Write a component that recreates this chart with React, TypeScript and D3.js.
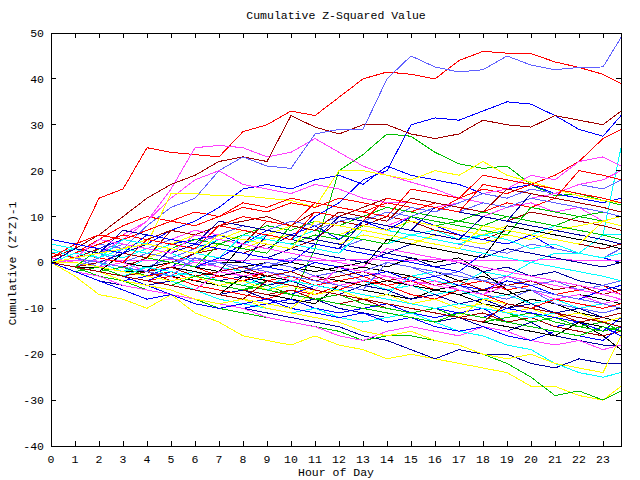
import * as React from "react";
import { scaleLinear, line, range } from "d3";

// sample times (hours), one per hour plus the last quarter
const hours = [0, 1, 2, 3, 4, 5, 6, 7, 8, 9, 10, 11, 12, 13, 14, 15, 16, 17, 18, 19, 20, 21, 22, 23, 23.75];

const xTicks = range(0, 24);
const yTicks = [-40, -30, -20, -10, 0, 10, 20, 30, 40, 50];

// one walk per day
const walk00 = [0, 3, 14, 16, 25, 24, 23.5, 23, 28.5, 30, 33, 32, 36, 40, 41.5, 41, 40, 44, 46, 45.6, 45.5, 43.7, 42.5, 41, 39];
const walk01 = [0, -1, -2, -3, -4, -5, -6, -7, -8, -9, -8, 3, 20, 23.5, 28, 27.5, 24, 21.5, 20.5, 21, 17, 14.5, 15, 13.5, 12.5];
const walk02 = [0, -2, -3, -4, -3, -1, 2, 1, 4, 6, 5, 10, 13, 18, 20, 30, 31.5, 31, 33, 35, 34.5, 32, 29, 27.5, 32];
const walk03 = [0, 1, 2, 5, 9, 16, 25, 25.5, 25, 23, 24, 27, 24, 21, 19, 17.5, 16, 14, 13, 12, 13, 11, 12, 9, 8];
const walk04 = [1, 0, -1, -2, 1, 0, -1, -3, -4, -5, -3, -4, -5, -6, -7, -3, -4, -5, -2, -3, 0, 2, 2, 6, 25];
const walk05 = [1, 3, 6, 10, 14, 17, 19, 22, 23, 22, 32, 29.5, 28, 30, 30, 28, 27, 28, 31, 30, 29.5, 32, 31, 30, 33];
const walk06 = [0, -3, -7, -8, -10, -7, -11, -13, -16, -17, -18, -16, -18, -19, -21, -20, -21, -22, -23, -24, -27, -27, -29, -30, -27];
const walk07 = [0, 1, -1, 3, 8, 12, 14, 20, 23, 21, 20.5, 28, 29, 29, 40, 45, 42.6, 41.5, 42, 45, 43, 42, 42.5, 42.6, 49];
const walk08 = [0, -2, -4, -5, -6, -7, -8, -9, -10, -11, -12, -13, -14, -16, -17, -19, -21, -19, -20, -20, -22, -23, -21, -22, -22];
const walk09 = [0, -1, -1, -2, -1, 0, -1, 0, -1, 0, -1, -2, -1, 0, -1, 1, 0, 1, -2, -6, -9, -11, -13, -16, -19];
const walk10 = [0, 2, 5, 8, 10, 9, 11, 10, 13, 12, 14, 13, 12, 11, 13, 12, 11, 14, 16, 15, 17, 19, 22, 27, 29];
const walk11 = [0, -1, 0, 2, 1, 3, 2, 4, 6, 5, 4, 6, 5, 8, 7, 9, 8, 9, 8, 10, 9, 8, 10, 11, 10];
const walk12 = [0, 1, 3, 5, 4, 7, 9, 12, 16, 17, 16, 18, 19, 17, 21, 19, 18, 17, 15, 16, 17, 15, 14, 13, 14];
const walk13 = [0, 2, 4, 6, 9, 14, 18, 20, 17, 16, 15, 17, 16, 14, 13, 13, 12, 13, 15, 16, 19, 18, 22, 23, 21];
const walk14 = [2, 3, 1, 0, 2, 4, 3, 5, 7, 6, 8, 7, 6, 8, 7, 6, 7, 5, 6, 7, 6, 8, 7, 6, 6];
const walk15 = [0, -1, -2, -1, 1, 0, 2, 3, 2, 4, 3, 5, 9, 8, 10, 9, 7, 6, 5, 7, 6, 5, 4, 3, 4];
const walk16 = [0, -1, 1, 3, 4, 15, 15, 14.5, 14.5, 14, 13.5, 12, 20, 20, 19, 18, 20, 19, 22, 19, 17.5, 16, 14.5, 13.5, 13];
const walk17 = [0, 1, 2, 0, -1, 1, 3, 5, 4, 6, 8, 7, 9, 10, 9, 12, 11, 13, 15, 14, 16, 15, 17, 16, 18];
const walk18 = [0, -1, -3, -4, -5, -4, -6, -7, -6, -8, -9, -8, -10, -11, -12, -11, -13, -12, -14, -15, -13, -16, -17, -18, -18];
const walk19 = [0, 1, 0, -1, -2, -3, -4, -5, -6, -7, -8, -9, -5, -6, -7, -8, -6, -7, -9, -10, -8, -9, -11, -12, -13];
const walk20 = [0, -1, -2, -3, -4, -3, -5, -6, -7, -8, -6, -7, -5, -4, -6, -5, -7, -6, -8, -9, -10, -11, -12, -13, -12];
const walk21 = [0, -1, -3, -4, -6, -7, -8, -10, -11, -12, -13, -14, -15, -17, -16, -16, -17, -18, -20, -22, -25, -29, -28, -30, -28];
const walk22 = [1, 0, -1, -3, -5, -7, -8, -9, -10, -9, -8, -10, -11, -10, -9, -11, -12, -11, -10, -13, -12, -14, -13, -15, -12];
const walk23 = [0, -2, -3, -5, -6, -7, -8, -9, -10, -12, -13, -14, -16, -17, -15, -14, -15, -16, -14, -15, -17, -18, -17, -19, -18];
const walk24 = [3, 1, 0, -1, -2, -4, -6, -8, -9, -10, -11, -10, -12, -13, -12, -11, -13, -15, -16, -18, -19, -22, -24, -25, -24];
const walk25 = [0, 1, 0, -1, -2, -1, -3, -4, -3, -5, -4, -6, -7, -8, -7, -9, -10, -11, -12, -13, -12, -14, -15, -16, -15];
const walk26 = [0, -1, -2, -4, -5, -6, -8, -9, -8, -10, -11, -12, -13, -15, -16, -15, -17, -18, -20, -21, -20, -22, -23, -24, -16];
const walk27 = [0, 0, -1, -2, -1, 0, 1, -1, -2, 0, -1, -3, -2, -4, -3, -5, -6, -5, -7, -8, -6, -9, -10, -11, -10];
const walk28 = [0, 1, 2, 1, 3, 2, 4, 3, 2, 1, 3, 2, 1, 0, 2, 1, -1, 0, -2, -1, -3, -2, -4, -5, -6];
const walk29 = [0, -1, -1, -2, -2, -3, -2, -3, -4, -3, -4, -5, -4, -5, -6, -5, -6, -7, -6, -5, -6, -7, -6, -7, -6];
const walk30 = [1, 4, 6, 5, 7, 9, 8, 10, 12, 11, 13, 12, 14, 13, 12, 11, 13, 12, 11, 13, 12, 14, 13, 12, 11];
const walk31 = [0, -2, -1, -3, -2, -4, -3, -5, -6, -4, -5, -7, -6, -8, -7, -9, -8, -10, -9, -11, -13, -12, -14, -13, -15];
const walk32 = [0, 2, 1, 3, 2, 4, 5, 6, 4, 7, 6, 8, 5, 9, 7, 10, 8, 6, 5, 4, 6, 3, 2, 1, 0];
const walk33 = [0, 0.5, 0.3, 0.5, 0.4, 0.6, 0.5, 0.4, 0.5, 0.6, 0.5, 0.4, 0.5, 0.6, 0.5, 0.5, 0.6, 0.5, 0.5, 0.4, 0.5, 0.6, 0.5, 0.5, 0.5];
const walk34 = [4, 3, 2, 1, 3, 2, 0, -1, -2, -3, -4, -3, -5, -4, -6, -5, -7, -6, -8, -7, -9, -8, -10, -9, -8];
const walk35 = [0, 2, 4, 3, 5, 7, 6, 8, 9, 10, 8, 11, 10, 12, 14, 13, 12, 11, 10, 9, 11, 10, 9, 8, 7];
const walk36 = [0, 1, 0, 2, 1, 3, 2, 4, 3, 5, 6, 5, 4, 6, 5, 4, 6, 5, 4, 6, 5, 7, 8, 9, 10];
const walk37 = [0, 2, 4, 3, 5, 4, 6, 5, 7, 6, 5, 4, 3, 5, 4, 6, 5, 4, 3, 2, 4, 3, 2, 1, 3];
const walk38 = [0, -1, 0, -2, -1, -3, -2, -4, -3, -5, -4, -6, -7, -5, -6, -8, -7, -9, -8, -10, -9, -11, -10, -12, -11];
const walk39 = [0, 0, -1, 0, -1, 0, -1, 0, 0, -1, 0, -1, -2, -1, -2, -3, -2, -4, -3, -5, -4, -6, -5, -7, -6];
const walk40 = [0, -1, -2, -1, -3, -2, -4, -3, -2, -4, -3, -5, -4, -3, -5, -4, -6, -5, -4, -6, -5, -7, -6, -5, -7];
const walk41 = [0, 1, 3, 2, 4, 3, 5, 4, 6, 8, 7, 9, 8, 10, 12, 11, 10, 9, 11, 10, 9, 8, 7, 6, 5];
const walk42 = [0, -2, -4, -6, -8, -7, -9, -10, -9, -8, -10, -11, -12, -11, -13, -12, -14, -15, -14, -16, -17, -15, -16, -17, -14];
const walk43 = [0, 1, 2, 4, 3, 5, 7, 6, 8, 7, 9, 8, 10, 9, 8, 10, 12, 11, 10, 12, 14, 15, 17, 18, 20];
const walk44 = [0, -1, 0, -2, -1, -3, -2, -4, -5, -3, -2, -4, -3, -2, -4, -3, -2, -3, -4, -3, -5, -4, -6, -5, -4];
const walk45 = [0, -1, -2, -3, -2, -4, -3, -5, -6, -7, -6, -8, -9, -8, -10, -11, -10, -12, -11, -13, -12, -11, -13, -12, -11];
const walk46 = [0, 2, 1, 3, 5, 4, 6, 5, 7, 6, 8, 7, 6, 8, 7, 9, 8, 7, 6, 8, 7, 6, 5, 4, 3];
const walk47 = [0, -1, 1, 0, 2, 1, -1, 0, -2, -1, 1, 0, -1, -2, 0, -1, -3, -2, -4, -3, -5, -4, -6, -5, -4];
const walk48 = [0, 1, 0, 2, 4, 3, 2, 5, 4, 3, 6, 5, 4, 3, 2, 4, 3, 2, 1, 3, 2, 1, 0, -1, 0];
const walk49 = [0, -1, 0, -1, -2, -1, -2, -3, -2, -3, -4, -3, -4, -5, -4, -5, -6, -5, -6, -7, -6, -8, -7, -8, -9];
const walk50 = [2, 1, 0, -1, -2, 0, -1, -3, -4, -2, -3, -5, -6, -4, -5, -7, -8, -6, -7, -9, -10, -8, -9, -10, -9];
const walk51 = [0, -1, -2, -1, -3, -4, -3, -5, -6, -5, -7, -8, -7, -9, -10, -11, -10, -12, -13, -12, -11, -13, -14, -15, -14];
const walk52 = [0, 1, 3, 2, 1, 0, -1, 1, 0, -1, -2, 0, -1, -3, -2, -4, -3, -5, -6, -4, -5, -7, -8, -6, -5];
const walk53 = [1, 0, -1, 0, -2, -1, 0, -1, -3, -2, -4, -3, -5, -4, -3, -5, -4, -6, -7, -5, -6, -8, -7, -9, -8];
const walk54 = [0, 2, 1, 3, 2, 4, 3, 5, 4, 6, 5, 7, 6, 5, 4, 6, 5, 4, 6, 5, 3, 4, 2, 1, 2];
const walk55 = [0, -1, 0, -1, -2, -1, -3, -2, -1, -3, -2, -4, -3, -2, -4, -3, -5, -4, -6, -5, -4, -6, -5, -7, -6];
const walk56 = [0, 0, -1, -2, -3, -4, -3, -5, -4, -6, -5, -7, -6, -8, -7, -9, -8, -10, -9, -11, -10, -12, -11, -13, -12];
const walk57 = [0, 1, 2, 4, 3, 5, 4, 6, 8, 7, 9, 8, 10, 9, 11, 10, 12, 11, 13, 12, 14, 13, 12, 11, 10];
const walk58 = [0, 1, 0, -1, -2, 3, 2, 1, 0, 6, 5, 4, 3, 9, 8, 7, 12, 11, 10, 9, 15, 14, 13, 12, 11];
const walk59 = [0, -1, -2, 2, 1, 0, -1, -2, 4, 3, 2, 1, 0, -1, 5, 4, 3, 2, 1, 8, 7, 6, 5, 4, 3];
const walk60 = [0, 2, 1, 0, 5, 4, 3, 8, 7, 6, 5, 11, 10, 9, 14, 13, 12, 11, 17, 16, 15, 14, 20, 19, 18];
const walk61 = [0, -1, 3, 2, 1, 0, -1, 4, 3, 2, 8, 7, 6, 5, 4, 10, 9, 8, 7, 6, 12, 11, 10, 9, 8];
const walk62 = [0, -1, -2, -3, -4, -2, -3, -4, -5, -6, -7, -5, -6, -7, -8, -9, -10, -11, -12, -10, -11, -12, -13, -14, -16];
const walk63 = [0, -1, -2, -3, -4, -5, -6, -2, -3, -4, -5, -6, -1, -2, -3, -4, -5, -6, -7, -3, -4, -5, -6, -7, -8];
const walk64 = [0, -1, -2, -3, -1, -2, -3, -4, -5, -6, -4, -5, -6, -7, -8, -9, -10, -9, -10, -11, -12, -11, -12, -13, -14];
const walk65 = [0, 1, 3, 2, 1, 7, 6, 5, 4, 9, 8, 7, 11, 10, 9, 14, 13, 12, 11, 16, 15, 14, 13, 12, 11];
const walk66 = [0, -1, -2, -3, -4, -5, -6, -7, -8, -9, -10, -6, -7, -8, -9, -10, -11, -12, -8, -9, -10, -11, -12, -13, -12];
const walk67 = [0, 1, 0, -1, -2, -3, 1, 0, -1, -2, -3, -4, -5, -6, 0, -1, -2, -3, -4, -5, -6, -7, -8, -9, -10];
const walk68 = [0, 3, 2, 7, 6, 5, 4, 9, 8, 7, 6, 5, 10, 9, 8, 7, 6, 5, 10, 9, 8, 7, 6, 5, 4];
const walk69 = [0, -1, -2, -3, -4, -5, -6, -7, -3, -4, -5, -6, -7, -8, -9, -10, -11, -12, -13, -14, -15, -16, -13, -14, -15];
const walk70 = [0, 2, 4, 6, 5, 4, 3, 8, 10, 9, 8, 13, 12, 11, 10, 16, 15, 14, 19, 18, 17, 16, 15, 14, 13];
const walk71 = [0, -1, -2, -3, -4, -5, -3, -4, -5, -6, -7, -8, -9, -10, -11, -12, -13, -11, -12, -13, -14, -15, -16, -14, -15];
const walk72 = [5, 4, 3, 2, 6, 5, 4, 3, 2, 1, 0, 4, 3, 2, 1, 0, -1, -2, 2, 1, 0, -1, -2, -3, -4];
const walk73 = [0, 1, 5, 4, 3, 2, 6, 5, 4, 3, 2, 1, 0, -1, 3, 2, 1, 0, -1, -2, -3, -4, -5, -6, -7];
const walk74 = [0, 2, 1, 5, 4, 3, 2, 1, 6, 5, 4, 3, 2, 7, 6, 5, 4, 3, 2, 1, 0, -1, -2, -3, -4];
const walk75 = [0, -1, -2, -3, -4, -5, -6, -7, -8, -4, -5, -6, -7, -8, -9, -10, -11, -12, -13, -9, -10, -11, -12, -13, -14];
const walk76 = [0, 1, 2, 3, 4, 3, 2, 6, 5, 4, 3, 9, 8, 7, 6, 5, 4, 3, 8, 7, 6, 5, 4, 9, 8];

const walks = [
  walk00, walk01, walk02, walk03, walk04, walk05, walk06, walk07, walk08, walk09,
  walk10, walk11, walk12, walk13, walk14, walk15, walk16, walk17, walk18, walk19,
  walk20, walk21, walk22, walk23, walk24, walk25, walk26, walk27, walk28, walk29,
  walk30, walk31, walk32, walk33, walk34, walk35, walk36, walk37, walk38, walk39,
  walk40, walk41, walk42, walk43, walk44, walk45, walk46, walk47, walk48, walk49,
  walk50, walk51, walk52, walk53, walk54, walk55, walk56, walk57, walk58, walk59,
  walk60, walk61, walk62, walk63, walk64, walk65, walk66, walk67, walk68, walk69,
  walk70, walk71, walk72, walk73, walk74, walk75, walk76,
];

// gnuplot-ish line colours, cycled
const palette = ["#ff0000", "#00c000", "#0000ff", "#ff40ff", "#00ffff", "#a00000", "#ffff00", "#6060ff", "#0000a0", "#000000"];

const W = 640;
const H = 480;
const left = 51;
const right = 621;
const top = 33;
const bottom = 446;
const tickLen = 5;
const font = "'Liberation Mono', 'DejaVu Sans Mono', monospace";

const App = () => {
  const x = scaleLinear().domain([0, 23.75]).range([left, right]);
  const y = scaleLinear().domain([-40, 50]).range([bottom, top]);

  const path = line<number>()
    .x((d, i) => x(hours[i]))
    .y((d) => y(d));

  return (
    <svg
      width={W}
      height={H}
      style={{ position: "absolute", left: 0, top: 0, background: "#fff", display: "block" }}
      fontFamily={font}
      fontSize={11.5}
    >
      <rect x={0} y={0} width={W} height={H} fill="#fff" />
      <g shapeRendering="crispEdges">
        {walks.map((w, i) => (
          <path key={i} d={path(w) || ""} fill="none" stroke={palette[i % palette.length]} strokeWidth={1} />
        ))}
      </g>

      <g stroke="#000" strokeWidth={1} shapeRendering="crispEdges">
        <rect x={left} y={top} width={right - left} height={bottom - top} fill="none" />
        {xTicks.map((t) => (
          <g key={t}>
            <line x1={x(t)} x2={x(t)} y1={bottom} y2={bottom - tickLen} />
            <line x1={x(t)} x2={x(t)} y1={top} y2={top + tickLen} />
          </g>
        ))}
        {yTicks.map((t) => (
          <g key={t}>
            <line x1={left} x2={left + tickLen} y1={y(t)} y2={y(t)} />
            <line x1={right} x2={right - tickLen} y1={y(t)} y2={y(t)} />
          </g>
        ))}
      </g>

      {xTicks.map((t) => (
        <text key={t} x={x(t)} y={463} textAnchor="middle" fill="#000">
          {t}
        </text>
      ))}
      {yTicks.map((t) => (
        <text key={t} x={44} y={y(t)} dy="0.35em" textAnchor="end" fill="#000">
          {t}
        </text>
      ))}

      <text x={(left + right) / 2} y={19} textAnchor="middle" fill="#000">
        Cumulative Z-Squared Value
      </text>
      <text x={(left + right) / 2} y={476} textAnchor="middle" fill="#000">
        Hour of Day
      </text>
      <text transform={`translate(16,${(top + bottom) / 2 + 24}) rotate(-90)`} textAnchor="middle" fill="#000">
        Cumulative (Z*Z)-1
      </text>
    </svg>
  );
};

export default App;
